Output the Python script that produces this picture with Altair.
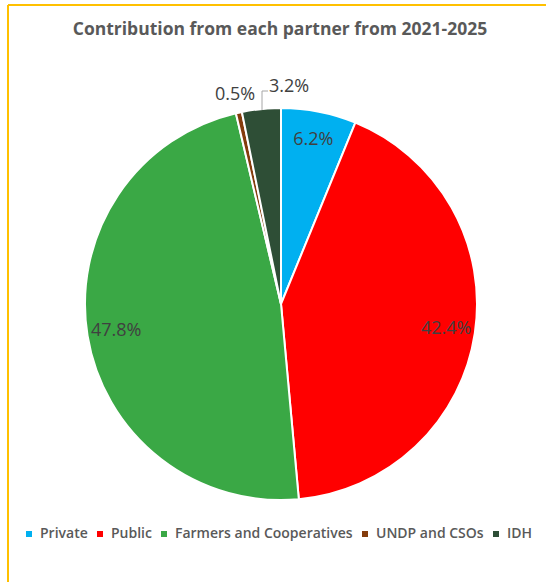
import altair as alt
import pandas as pd

partners = ["Private", "Public", "Farmers and Cooperatives", "UNDP and CSOs", "IDH"]
shares = [6.2, 42.4, 47.8, 0.5, 3.2]
labels = ["6.2%", "42.4%", "47.8%", "0.5%", "3.2%"]
colors = ["#00B0F0", "#FF0000", "#3AA845", "#843C0C", "#2E4E36"]

df = pd.DataFrame({"partner": partners, "share": shares, "label": labels,
                   "idx": list(range(len(partners)))})

CX, CY, R = 281, 304, 196

theta = alt.Theta("share:Q", stack=True)
color = alt.Color("partner:N", scale=alt.Scale(domain=partners, range=colors),
                  legend=alt.Legend(orient="none", legendX=22, legendY=527, direction="horizontal",
                                    title=None, symbolType="square", symbolSize=36,
                                    labelFontSize=14, labelFont="Open Sans", labelFontWeight=600,
                                    labelColor="#595959", labelLimit=0,
                                    columnPadding=5, symbolStrokeWidth=0, labelOffset=4))

base = alt.Chart(df).encode(theta=theta, order=alt.Order("idx:Q"))

pie = base.mark_arc(radius=R, stroke="white", strokeWidth=2).encode(
    color=color, x=alt.value(CX), y=alt.value(CY))

txt = dict(fontSize=18, font="Open Sans", color="#404040")

inner = base.mark_text(radius=167, **txt).encode(
    text="label:N", x=alt.value(CX), y=alt.value(CY)).transform_filter(alt.datum.share > 5)

lab05 = base.mark_text(radius=214, **txt).encode(
    text=alt.condition(alt.datum.partner == "UNDP and CSOs", "label:N", alt.value("")),
    x=alt.value(CX), y=alt.value(CY))
lab32 = base.mark_text(radius=218, dx=30, **txt).encode(
    text=alt.condition(alt.datum.partner == "IDH", "label:N", alt.value("")),
    x=alt.value(CX), y=alt.value(CY))

lead1 = alt.Chart(df.head(1)).mark_rule(color="#A6A6A6", strokeWidth=1).encode(
    x=alt.value(262), y=alt.value(110), y2=alt.value(91))
lead2 = alt.Chart(df.head(1)).mark_rule(color="#A6A6A6", strokeWidth=1).encode(
    x=alt.value(262), x2=alt.value(268), y=alt.value(91))

title = alt.Chart(df.head(1)).mark_text(fontSize=17.5, font="Open Sans", fontWeight="bold",
                                         color="#595959").encode(
    x=alt.value(280), y=alt.value(30), text=alt.value("Contribution from each partner from 2021-2025"))

border_top = alt.Chart(df.head(1)).mark_rule(color="#FFC000", strokeWidth=2).encode(
    x=alt.value(8), x2=alt.value(546), y=alt.value(5))
border_left = alt.Chart(df.head(1)).mark_rule(color="#FFC000", strokeWidth=2).encode(
    x=alt.value(8), y=alt.value(5), y2=alt.value(582))

chart = alt.layer(pie, inner, lab05, lab32, lead1, lead2, title, border_top, border_left).properties(
    width=546, height=582, padding=0, autosize=alt.AutoSizeParams(type="none")
).configure_view(stroke=None)

chart.save("out.html", embed_options={"renderer": "svg", "actions": False})
